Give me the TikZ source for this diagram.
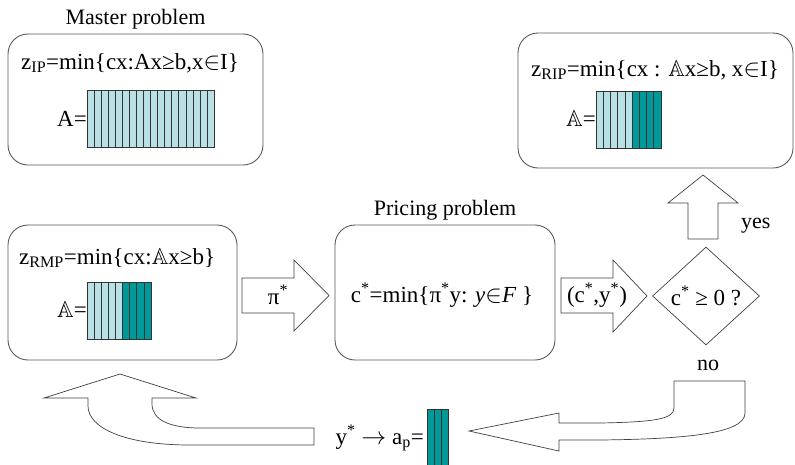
\documentclass[tikz,border=0pt]{standalone}
\usepackage{amssymb}
\usepackage{fontspec}
\setmainfont{Liberation Serif}
\usetikzlibrary{positioning,shapes.geometric}
\definecolor{colLight}{RGB}{185,224,228}
\definecolor{colDark}{RGB}{0,153,153}
\newcommand{\matcols}[5]{% x left, y top, columns, column width, colour
  \foreach \k in {1,...,#3}{\draw[colline,fill=#5] ({#1+(\k-1)*#4},#2) rectangle ++(#4,57);}}
\tikzset{
  probbox/.style  = {draw=black!65, line width=0.9pt, rounded corners=20pt},
  blockarr/.style = {draw=black!75, line width=0.7pt, fill=white, line join=miter},
  colline/.style  = {draw=black!80, line width=0.6pt},
  lbl/.style      = {font=\fontsize{22}{26}\selectfont, inner sep=1pt},
  formula/.style  = {font=\fontsize{23}{27}\selectfont, inner sep=1pt},
}

\begin{document}
\begin{tikzpicture}[x=1pt,y=-1pt]
  \useasboundingbox (0,0) rectangle (795,464);
  % problem boxes
  \node[probbox, minimum width=255pt, minimum height=131pt] (master) at (135.5,99.5) {};
  \node[probbox, minimum width=275pt, minimum height=135pt] (rip) at (655.5,100.5) {};
  \node[probbox, minimum width=229pt, minimum height=135pt] (rmp) at (122.5,292.5) {};
  \node[probbox, minimum width=220pt, minimum height=135pt] (pricing) at (445,292.5) {};
  \node[lbl, above=3pt of master] (mastertitle) {Master problem};
  \node[lbl, above=3pt of pricing] (pricingtitle) {Pricing problem};
  % master problem
  \node[formula, anchor=west] (zip) at (20,63) {z\textsubscript{IP}=min\{cx:Ax≥b,x$\in$I\}};
  \node[formula, anchor=east] (aeq) at (88,119) {A=};
  \matcols{87}{90}{18}{7.06}{colLight}
  % integer master with the generated columns
  \node[formula, anchor=west] (zrip) at (530,70) {z\textsubscript{RIP}=min\{cx : $\mathbb{A}$x≥b, x$\in$I\}};
  \node[formula, anchor=east] (aripeq) at (597,119) {$\mathbb{A}$=};
  \matcols{596}{91}{5}{7.2}{colLight}
  \matcols{632}{91}{4}{7.2}{colDark}
  % restricted master
  \node[formula, anchor=west] (zrmp) at (18,258) {z\textsubscript{RMP}=min\{cx:$\mathbb{A}$x≥b\}};
  \node[formula, anchor=east] (armpeq) at (88,310) {$\mathbb{A}$=};
  \matcols{87}{282}{5}{7.1}{colLight}
  \matcols{122.5}{282}{4}{7.1}{colDark}
  % pricing
  \node[formula] (cstar) at (442,295) {c\textsuperscript{*}=min\{π\textsuperscript{*}y: \textit{y}$\in$\textit{F} \}};
  % block arrows
  \draw[blockarr] (242,278) -- (294,278) -- (294,260) -- (329,295.5) -- (294,331) -- (294,313) -- (242,313) -- cycle;
  \node[formula] (pistar) at (278,295) {π\textsuperscript{*}};
  \draw[blockarr] (561,278) -- (613,278) -- (613,260) -- (647,296) -- (613,332) -- (613,313) -- (561,313) -- cycle;
  \node[formula] (cy) at (597,295) {(c\textsuperscript{*},y\textsuperscript{*})};
  \node[diamond, aspect=1.09, draw=black!75, line width=0.7pt, minimum width=107pt,
        minimum height=98pt, inner sep=0pt, formula] (test) at (706,296) {c\textsuperscript{*} ≥ 0 ?};
  \draw[blockarr] (688,239) -- (688,203) -- (668,203) -- (703,175) -- (738,203) -- (718,203) -- (718,239) -- cycle;
  \node[lbl, anchor=west] (yes) at (740,226) {yes};
  \node[lbl] (no) at (708,365) {no};
  % return arrows
  \draw[blockarr] (674,381) -- (745,381) -- (745,413) .. controls (745,433) and (690,439) .. (600,440)
    -- (559,440) -- (559,451) -- (469,431) -- (559,413) -- (559,423) -- (600,423)
    .. controls (655,422) and (674,419) .. (674,408) -- cycle;
  \draw[blockarr] (120,374) -- (196,398) -- (152,398) -- (152,404) .. controls (152,420) and (170,428) .. (200,428)
    -- (314,428) -- (314,445) -- (190,445) .. controls (125,445) and (88,428) .. (88,406)
    -- (88,398) -- (44,398) -- cycle;
  \node[formula, anchor=east] (ytoa) at (425,438) {y\textsuperscript{*} $\rightarrow$ a\textsubscript{p}=};
  \matcols{427}{409}{3}{7}{colDark}
\end{tikzpicture}
\end{document}
